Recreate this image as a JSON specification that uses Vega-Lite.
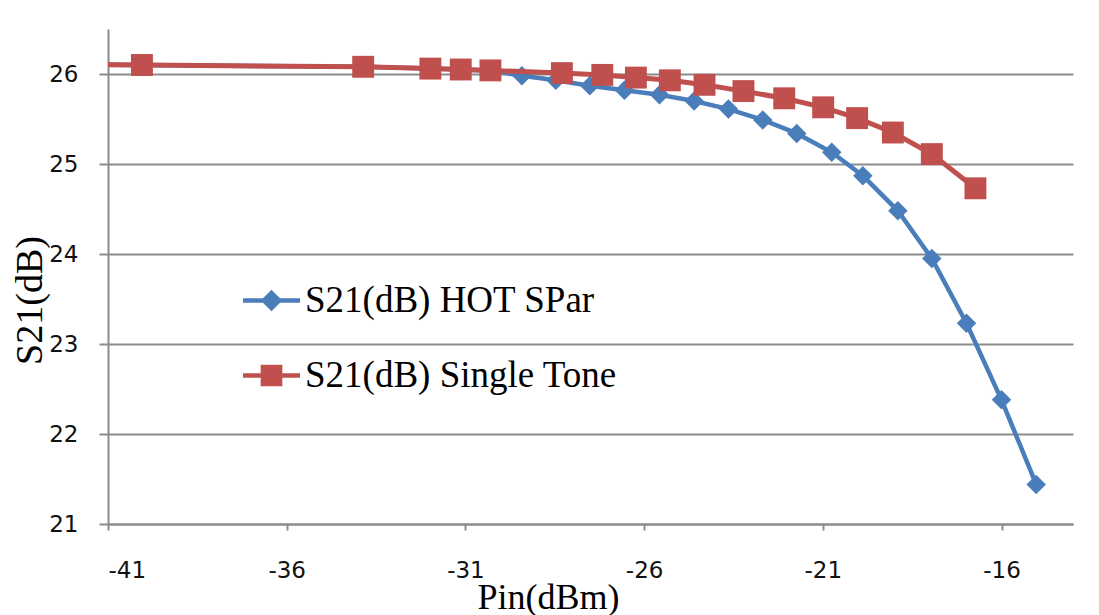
{
  "$schema": "https://vega.github.io/schema/vega-lite/v6.json",
  "autosize": {"type": "none"},
  "width": 965,
  "height": 495,
  "padding": {"left": 108, "top": 29, "right": 26, "bottom": 91},
  "background": "white",
  "config": {
    "view": {"stroke": null},
    "axis": {
      "labelFont": "DejaVu Sans",
      "labelFontSize": 23,
      "labelColor": "#111111",
      "domainColor": "#8c8c8c",
      "domainWidth": 2,
      "tickColor": "#8c8c8c",
      "tickWidth": 2,
      "gridColor": "#8c8c8c",
      "gridWidth": 2,
      "gridOpacity": 1,
      "titleFont": "Liberation Serif",
      "titleFontWeight": "normal",
      "titleColor": "#000000"
    }
  },
  "data": {
    "values": [
      {"series": "S21(dB) HOT SPar", "Pin": -44.0, "S21": 26.11},
      {"series": "S21(dB) HOT SPar", "Pin": -40.05, "S21": 26.10},
      {"series": "S21(dB) HOT SPar", "Pin": -33.86, "S21": 26.08},
      {"series": "S21(dB) HOT SPar", "Pin": -31.98, "S21": 26.06},
      {"series": "S21(dB) HOT SPar", "Pin": -31.13, "S21": 26.05},
      {"series": "S21(dB) HOT SPar", "Pin": -30.30, "S21": 26.04},
      {"series": "S21(dB) HOT SPar", "Pin": -29.42, "S21": 25.98},
      {"series": "S21(dB) HOT SPar", "Pin": -28.47, "S21": 25.93},
      {"series": "S21(dB) HOT SPar", "Pin": -27.52, "S21": 25.87},
      {"series": "S21(dB) HOT SPar", "Pin": -26.55, "S21": 25.82},
      {"series": "S21(dB) HOT SPar", "Pin": -25.57, "S21": 25.77},
      {"series": "S21(dB) HOT SPar", "Pin": -24.60, "S21": 25.70},
      {"series": "S21(dB) HOT SPar", "Pin": -23.64, "S21": 25.61},
      {"series": "S21(dB) HOT SPar", "Pin": -22.68, "S21": 25.49},
      {"series": "S21(dB) HOT SPar", "Pin": -21.73, "S21": 25.34},
      {"series": "S21(dB) HOT SPar", "Pin": -20.75, "S21": 25.13},
      {"series": "S21(dB) HOT SPar", "Pin": -19.88, "S21": 24.87},
      {"series": "S21(dB) HOT SPar", "Pin": -18.90, "S21": 24.48},
      {"series": "S21(dB) HOT SPar", "Pin": -17.95, "S21": 23.95},
      {"series": "S21(dB) HOT SPar", "Pin": -16.98, "S21": 23.23},
      {"series": "S21(dB) HOT SPar", "Pin": -16.00, "S21": 22.38},
      {"series": "S21(dB) HOT SPar", "Pin": -15.03, "S21": 21.44},
      {"series": "S21(dB) Single Tone", "Pin": -44.0, "S21": 26.11},
      {"series": "S21(dB) Single Tone", "Pin": -40.05, "S21": 26.10},
      {"series": "S21(dB) Single Tone", "Pin": -33.86, "S21": 26.08},
      {"series": "S21(dB) Single Tone", "Pin": -31.98, "S21": 26.06},
      {"series": "S21(dB) Single Tone", "Pin": -31.13, "S21": 26.05},
      {"series": "S21(dB) Single Tone", "Pin": -30.30, "S21": 26.04},
      {"series": "S21(dB) Single Tone", "Pin": -28.30, "S21": 26.01},
      {"series": "S21(dB) Single Tone", "Pin": -27.17, "S21": 25.99},
      {"series": "S21(dB) Single Tone", "Pin": -26.23, "S21": 25.96},
      {"series": "S21(dB) Single Tone", "Pin": -25.28, "S21": 25.93},
      {"series": "S21(dB) Single Tone", "Pin": -24.31, "S21": 25.88},
      {"series": "S21(dB) Single Tone", "Pin": -23.22, "S21": 25.81},
      {"series": "S21(dB) Single Tone", "Pin": -22.08, "S21": 25.73},
      {"series": "S21(dB) Single Tone", "Pin": -20.99, "S21": 25.63},
      {"series": "S21(dB) Single Tone", "Pin": -20.04, "S21": 25.51},
      {"series": "S21(dB) Single Tone", "Pin": -19.04, "S21": 25.35},
      {"series": "S21(dB) Single Tone", "Pin": -17.95, "S21": 25.11},
      {"series": "S21(dB) Single Tone", "Pin": -16.73, "S21": 24.73}
    ]
  },
  "encoding": {
    "x": {
      "field": "Pin",
      "type": "quantitative",
      "scale": {"domain": [-41, -14], "nice": false, "zero": false},
      "axis": {
        "title": "Pin(dBm)",
        "values": [-41, -36, -31, -26, -21, -16],
        "labelExpr": "datum.value < 0 ? '-' + abs(datum.value) : '' + datum.value",
        "grid": false,
        "tickSize": 6,
        "labelPadding": 29,
        "titleFontSize": 36,
        "titleX": 440,
        "titleY": 84,
        "titleAlign": "center",
        "titleBaseline": "alphabetic"
      }
    },
    "y": {
      "field": "S21",
      "type": "quantitative",
      "scale": {"domain": [21, 26.5], "nice": false, "zero": false},
      "axis": {
        "title": "S21(dB)",
        "values": [21, 22, 23, 24, 25, 26],
        "grid": true,
        "tickSize": 9,
        "labelPadding": 21,
        "titleFontSize": 38,
        "titleAngle": -90,
        "titleX": -67,
        "titleY": 271,
        "titleAlign": "center",
        "titleBaseline": "alphabetic"
      }
    },
    "color": {
      "field": "series",
      "type": "nominal",
      "scale": {"domain": ["S21(dB) HOT SPar", "S21(dB) Single Tone"], "range": ["#4a7ebb", "#c0504d"]},
      "legend": {
        "title": null,
        "orient": "none",
        "legendX": 135,
        "legendY": 243,
        "padding": 0,
        "labelFont": "Liberation Serif",
        "labelFontSize": 37,
        "labelColor": "#000000",
        "labelOffset": 5,
        "rowPadding": 28,
        "symbolSize": 3249,
        "labelLimit": 600,
        "encode": {
          "symbols": {
            "update": {
              "shape": {"signal": "datum.value === 'S21(dB) HOT SPar' ? 'M-1,-0.08H1V0.08H-1Z M0,-0.38L0.38,0L0,0.38L-0.38,0Z' : 'M-1,-0.08H1V0.08H-1Z M-0.38,-0.38H0.38V0.38H-0.38Z'"},
              "fill": {"signal": "datum.value === 'S21(dB) HOT SPar' ? '#4a7ebb' : '#c0504d'"},
              "fillOpacity": {"value": 1},
              "opacity": {"value": 1},
              "stroke": {"value": "transparent"},
              "strokeWidth": {"value": 0}
            }
          }
        }
      }
    }
  },
  "layer": [
    {
      "transform": [{"filter": "datum.series === 'S21(dB) HOT SPar'"}],
      "mark": {"type": "line", "strokeWidth": 4.5, "clip": true}
    },
    {
      "transform": [{"filter": "datum.series === 'S21(dB) HOT SPar'"}],
      "mark": {"type": "point", "shape": "diamond", "filled": true, "size": 380, "opacity": 1, "clip": true}
    },
    {
      "transform": [{"filter": "datum.series === 'S21(dB) Single Tone'"}],
      "mark": {"type": "line", "strokeWidth": 5, "clip": true}
    },
    {
      "transform": [{"filter": "datum.series === 'S21(dB) Single Tone'"}],
      "mark": {"type": "point", "shape": "square", "filled": true, "size": 480, "opacity": 1, "clip": true}
    }
  ]
}
